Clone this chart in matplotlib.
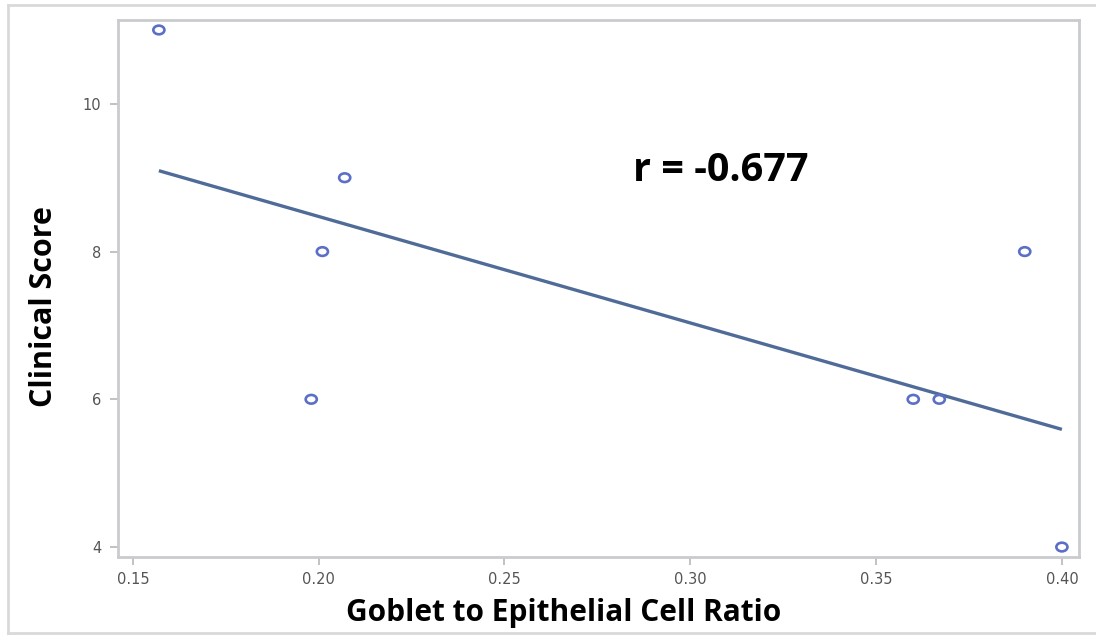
import numpy as np
import matplotlib
matplotlib.use("Agg")
import matplotlib.pyplot as plt
from matplotlib.path import Path
from matplotlib.lines import Line2D

# Goblet/epithelial cell ratio vs clinical score per subject
ratio = [0.157, 0.198, 0.201, 0.207, 0.360, 0.367, 0.390, 0.400]
score = [11, 6, 8, 9, 6, 6, 8, 4]
x_ticks = [0.15, 0.20, 0.25, 0.30, 0.35, 0.40]
y_ticks = [4, 6, 8, 10]
r_label = "r = -0.677"

fig = plt.figure(figsize=(10.96, 6.35), dpi=100)
ax = fig.add_axes([118 / 1096, 1 - 557 / 635, (1079 - 118) / 1096, (557 - 20) / 635])

# slightly flattened open-circle marker
circ = Path.unit_circle()
ell = Path(circ.vertices * np.array([1.0, 0.78]), circ.codes)

x = np.array(ratio)
y = np.array(score, dtype=float)
ax.scatter(x, y, marker=ell, s=64, facecolors="none", edgecolors="#5b6fc6",
           linewidths=1.9, zorder=3)

# least-squares fit over the data range
slope, intercept = np.polyfit(x, y, 1)
xf = np.array([x.min(), x.max()])
ax.plot(xf, slope * xf + intercept, color="#4f6b98", lw=2.4, zorder=2,
        solid_capstyle="butt")

ax.set_xlim(0.146, 0.4046)
ax.set_ylim(3.865, 11.135)
ax.set_xticks(x_ticks)
ax.set_xticklabels([f"{t:.2f}" for t in x_ticks])
ax.set_yticks(y_ticks)
ax.set_yticklabels([str(t) for t in y_ticks])

for side in ["left", "right", "top", "bottom"]:
    ax.spines[side].set_color("#c9cbcf")
    ax.spines[side].set_linewidth(2.0)

ax.tick_params(axis="both", colors="#b8b8b8", labelcolor="#555555",
               labelsize=10.5, length=6, width=1.2)
ax.tick_params(axis="x", pad=5)
ax.tick_params(axis="y", pad=6)

ax.set_xlabel("Goblet to Epithelial Cell Ratio", family="Open Sans",
              fontweight="bold", fontsize=21.5)
ax.xaxis.set_label_coords(0.464, -0.077)
ax.set_ylabel("Clinical Score", family="Open Sans", fontweight="bold",
              fontsize=22)
ax.yaxis.set_label_coords(-0.0614, 0.4655)

ax.text(0.2845, 9.1, r_label, family="Open Sans", fontweight="bold",
        fontsize=28.5, ha="left", va="center", color="black")

# thin outer frame
fc = "#d9d9d9"
fig.add_artist(Line2D([8 / 1096, 1.0], [1 - 5 / 635] * 2, transform=fig.transFigure,
                      color=fc, lw=2))
fig.add_artist(Line2D([8 / 1096] * 2, [1 - 5 / 635, 1 - 633 / 635],
                      transform=fig.transFigure, color=fc, lw=2))
fig.add_artist(Line2D([8 / 1096, 1.0], [1 - 633 / 635] * 2, transform=fig.transFigure,
                      color=fc, lw=2))

fig.savefig("out.png", dpi=100)
